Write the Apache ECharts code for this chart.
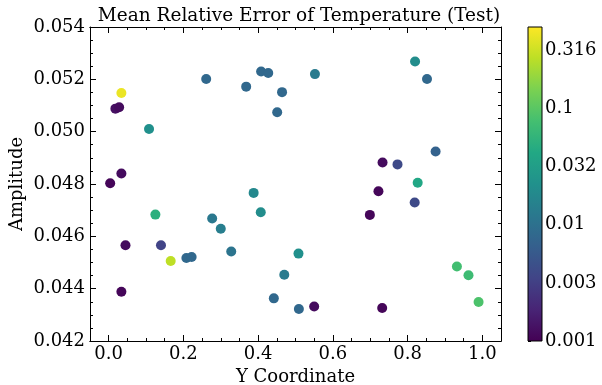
<!DOCTYPE html>
<html>
<head>
<meta charset="utf-8">
<script src="https://cdn.jsdelivr.net/npm/echarts@6/dist/echarts.min.js"></script>
<style>html,body{margin:0;padding:0;background:#fff;}#c{width:602px;height:385px;}</style>
</head>
<body>
<div id="c"></div>
<script>
// Data
var xs = [0.034, 0.018, 0.028, 0.108, 0.034, 0.004, 0.261, 0.368, 0.408, 0.427, 0.464, 0.451,
  0.552, 0.820, 0.852, 0.875, 0.733, 0.773, 0.827, 0.722, 0.819, 0.699, 0.508, 0.932,
  0.963, 0.990, 0.509, 0.550, 0.732, 0.125, 0.045, 0.140, 0.166, 0.208, 0.222, 0.034,
  0.277, 0.300, 0.328, 0.388, 0.407, 0.470, 0.442];
var ys = [0.05148, 0.05088, 0.05093, 0.0501, 0.0484, 0.04803, 0.05201, 0.05172, 0.0523, 0.05224, 0.05151, 0.05074,
  0.0522, 0.05268, 0.05201, 0.04924, 0.04882, 0.04875, 0.04805, 0.04772, 0.04729, 0.04682, 0.04534, 0.04485,
  0.04451, 0.04349, 0.04322, 0.04332, 0.04326, 0.04683, 0.04566, 0.04566, 0.04506, 0.04517, 0.04521, 0.04388,
  0.04668, 0.04629, 0.04542, 0.04766, 0.04692, 0.04453, 0.04363];
var errs = [0.42, 0.0013, 0.0012, 0.022, 0.0012, 0.0011, 0.008, 0.008, 0.008, 0.008, 0.008, 0.008,
  0.013, 0.02, 0.008, 0.007, 0.0012, 0.004, 0.04, 0.0011, 0.004, 0.0011, 0.022, 0.075,
  0.07, 0.085, 0.008, 0.0012, 0.0011, 0.05, 0.0012, 0.0035, 0.27, 0.008, 0.008, 0.0011,
  0.012, 0.014, 0.011, 0.018, 0.02, 0.013, 0.008];
var xMajor = [0, 0.2, 0.4, 0.6, 0.8, 1.0];
var xMinor = [-0.05, 0.05, 0.1, 0.15, 0.25, 0.3, 0.35, 0.45, 0.5, 0.55, 0.65, 0.7, 0.75, 0.85, 0.9, 0.95, 1.05];
var cbTickLabels = ['0.001', '0.003', '0.01', '0.032', '0.1', '0.316'];
var viridis = ['#440154', '#482475', '#414487', '#355f8d', '#2a788e', '#21918c', '#22a884', '#44bf70', '#7ad151', '#bddf26', '#fde725'];

var cbMin = -3, cbMax = Math.log10(0.5);
var FONT = 'DejaVu Serif';
var FS = 18;
var pts = xs.map(function (x, i) { return [x, ys[i], Math.log10(errs[i])]; });

var chart = echarts.init(document.getElementById('c'), null, { renderer: 'canvas' });
var axisLine = { show: true, onZero: false, lineStyle: { color: '#000', width: 1 } };
function xAx(pos, vals, len, labels) {
  return {
    type: 'value', gridIndex: 0, position: pos, min: -0.05, max: 1.05,
    axisLine: axisLine, splitLine: { show: false },
    axisTick: { show: true, inside: true, length: len, customValues: vals, lineStyle: { color: '#000' } },
    axisLabel: labels ? { show: true, customValues: xMajor, fontFamily: FONT, fontSize: FS, color: '#000', margin: 4,
      formatter: function (v) { return v.toFixed(1); } } : { show: false }
  };
}
function yAx(pos, labels) {
  return {
    type: 'value', gridIndex: 0, position: pos, min: 0.042, max: 0.054, interval: 0.002,
    axisLine: axisLine, splitLine: { show: false },
    axisTick: { show: true, inside: true, length: 6, lineStyle: { color: '#000' } },
    minorTick: { show: true, splitNumber: 4, length: 3, lineStyle: { color: '#000' } },
    axisLabel: labels ? { show: true, fontFamily: FONT, fontSize: FS, color: '#000', margin: 5,
      formatter: function (v) { return v.toFixed(3); } } : { show: false },
    name: labels ? 'Amplitude' : '', nameLocation: 'middle', nameGap: 64, nameMoveOverlap: false,
    nameTextStyle: { fontFamily: FONT, fontSize: FS, color: '#000' }
  };
}
var xb = xAx('bottom', xMajor, 6, true);
xb.name = 'Y Coordinate'; xb.nameLocation = 'middle'; xb.nameGap = 26;
xb.nameTextStyle = { fontFamily: FONT, fontSize: FS, color: '#000' };

chart.setOption({
  backgroundColor: '#fff',
  animation: false,
  title: { text: 'Mean Relative Error of Temperature (Test)', left: 294, top: 2, textAlign: 'center',
    textStyle: { fontFamily: FONT, fontSize: 18.5, fontWeight: 'normal', color: '#000' } },
  grid: [
    { left: 90, right: 101, top: 27, bottom: 44, containLabel: false, outerBoundsMode: 'none' },
    { left: 528, right: 60, top: 27, bottom: 44, containLabel: false, outerBoundsMode: 'none' }
  ],
  xAxis: [
    xb,
    xAx('bottom', xMinor, 3, false),
    xAx('top', xMajor, 6, false),
    xAx('top', xMinor, 3, false),
    { type: 'value', gridIndex: 1, min: 0, max: 1, show: false }
  ],
  yAxis: [
    yAx('left', true),
    yAx('right', false),
    { type: 'value', gridIndex: 1, position: 'right', min: cbMin, max: cbMax, interval: 0.5,
      axisLine: { show: false }, splitLine: { show: false },
      axisTick: { show: true, inside: false, length: 3, lineStyle: { color: '#000' } },
      minorTick: { show: true, splitNumber: 5, length: 2, lineStyle: { color: '#000' } },
      axisLabel: { show: true, showMaxLabel: false, fontFamily: FONT, fontSize: FS, color: '#000', margin: 3,
        formatter: function (v) { var k = Math.round((v - cbMin) / 0.5); return Math.abs(v - (cbMin + 0.5 * k)) < 1e-6 ? (cbTickLabels[k] || '') : ''; } }
    }
  ],
  visualMap: {
    show: false, type: 'continuous', seriesIndex: 0, dimension: 2, min: cbMin, max: cbMax,
    inRange: { color: viridis }
  },
  series: [
    { type: 'scatter', xAxisIndex: 0, yAxisIndex: 0, symbolSize: 10, data: pts, itemStyle: { opacity: 1 } },
    { type: 'custom', xAxisIndex: 4, yAxisIndex: 2, data: [[0.5, cbMin]], silent: true,
      renderItem: function (params, api) {
        var cs = params.coordSys;
        var stops = viridis.map(function (c, i) { return { offset: i / (viridis.length - 1), color: c }; });
        return { type: 'rect', shape: { x: cs.x, y: cs.y, width: cs.width, height: cs.height },
          style: { fill: new echarts.graphic.LinearGradient(0, 1, 0, 0, stops), stroke: '#000', lineWidth: 1 } };
      }
    }
  ]
});
</script>
</body>
</html>
